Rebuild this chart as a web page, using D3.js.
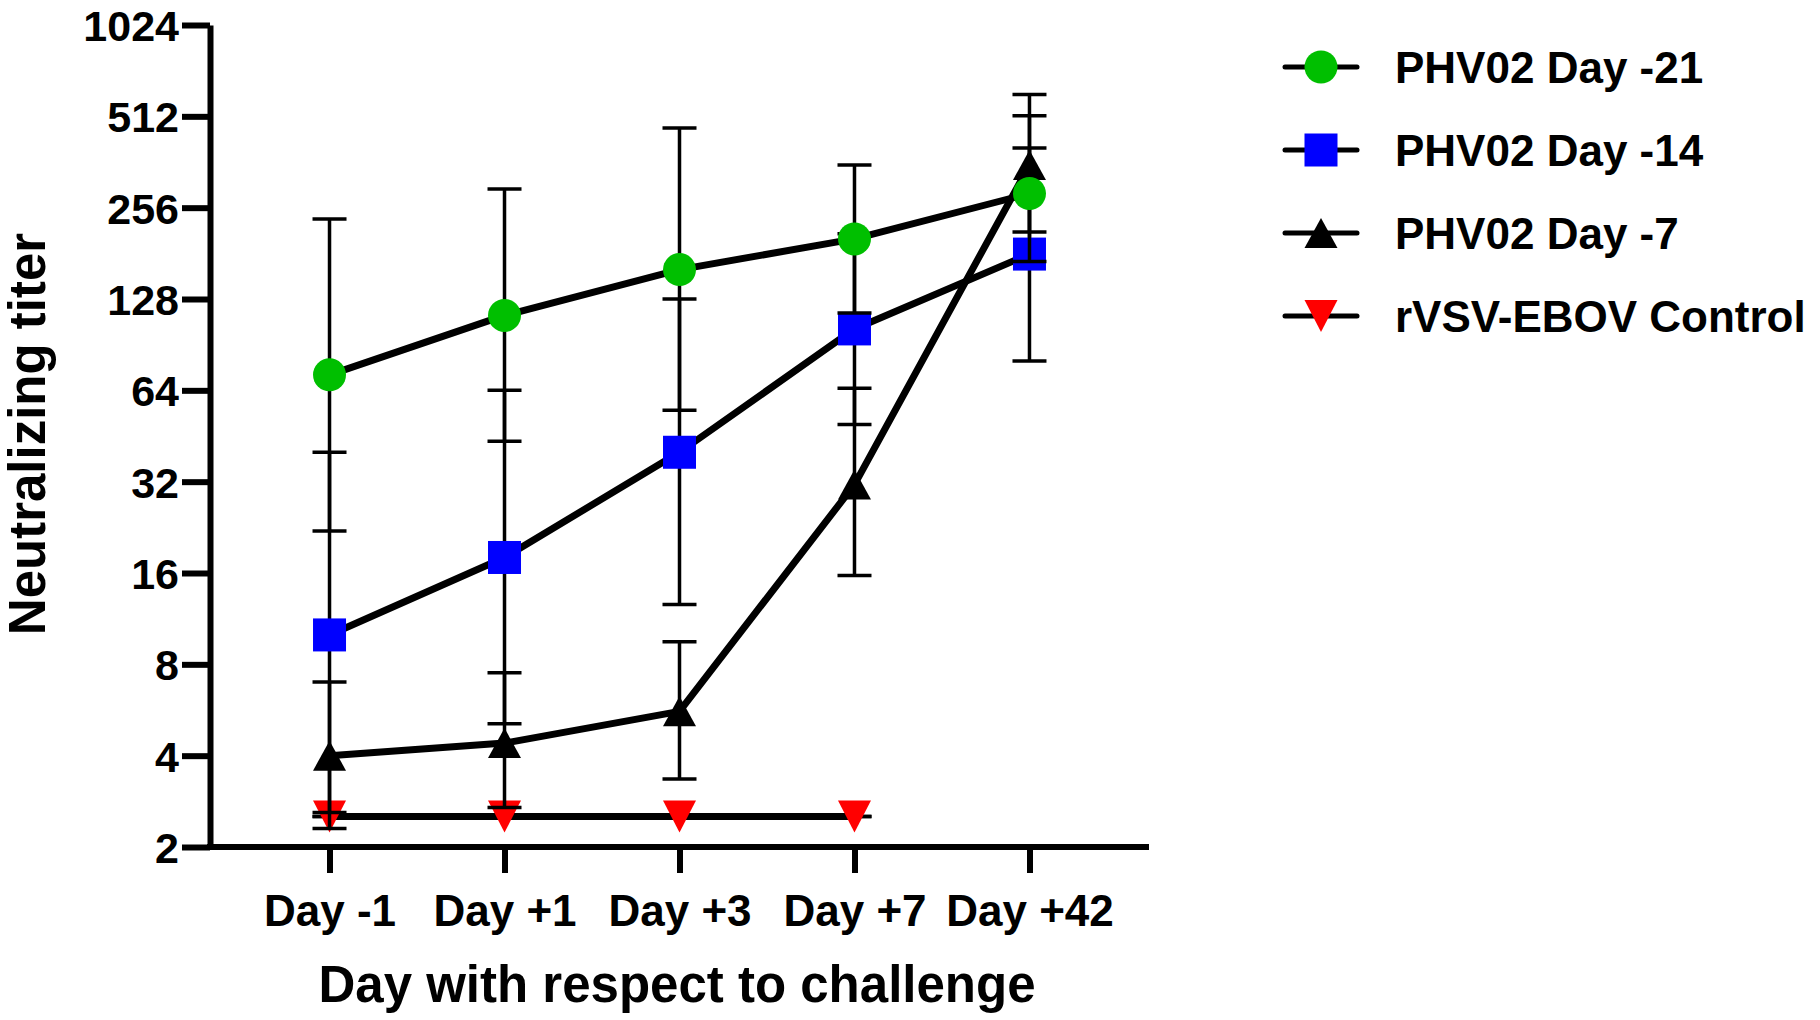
<!DOCTYPE html>
<html>
<head>
<meta charset="utf-8">
<script src="https://cdn.jsdelivr.net/npm/d3@7"></script>
<style>
  html, body { margin: 0; padding: 0; background: #fff; }
  svg { display: block; font-family: 'Liberation Sans', Arial, sans-serif; font-weight: bold; }
</style>
</head>
<body>
<div id="chart"></div>
<script>
// categories and tick labels
const days = ['Day -1', 'Day +1', 'Day +3', 'Day +7', 'Day +42'];
const yTicks = [2, 4, 8, 16, 32, 64, 128, 256, 512, 1024];

// series values (mean, lower and upper error limits)
const d21 = [72, 113, 160, 202, 285];
const d21Lo = [22, 43.5, 55, 115, 170];
const d21Hi = [235, 295, 469, 354, 514];

const d14 = [10, 18, 40, 102, 180];
const d14Lo = [2.6, 5.1, 12.6, 49.4, 80];
const d14Hi = [40, 64, 128, 210, 403];

const d7 = [4, 4.4, 5.6, 31.3, 354];
const d7Lo = [2.3, 2.7, 3.35, 15.7, 213];
const d7Hi = [7, 7.5, 9.5, 65, 604];

const ctrl = [2.52, 2.52, 2.52, 2.52, null];

const series = [
  { name: 'rVSV-EBOV Control', vals: ctrl, lo: ctrl, hi: ctrl, color: '#ff0000', shape: 'down' },
  { name: 'PHV02 Day -7', vals: d7, lo: d7Lo, hi: d7Hi, color: '#000000', shape: 'up' },
  { name: 'PHV02 Day -14', vals: d14, lo: d14Lo, hi: d14Hi, color: '#0000ff', shape: 'square' },
  { name: 'PHV02 Day -21', vals: d21, lo: d21Lo, hi: d21Hi, color: '#00bf00', shape: 'circle' },
];
const legendOrder = ['PHV02 Day -21', 'PHV02 Day -14', 'PHV02 Day -7', 'rVSV-EBOV Control'];

const width = 1820;
const height = 1020;

const svg = d3.select('#chart').append('svg')
  .attr('width', width)
  .attr('height', height);

const x = d3.scalePoint().domain(days).range([210, 1149]).padding(0.683);
const y = d3.scaleLog().base(2).domain([2, 1024]).range([847, 25]);

// axes
const yAxis = svg.append('g')
  .attr('transform', 'translate(210,0)')
  .call(d3.axisLeft(y).tickValues(yTicks).tickFormat(d3.format('d'))
    .tickSize(28).tickSizeOuter(0).tickPadding(3));
yAxis.selectAll('path, line').attr('stroke', '#000').attr('stroke-width', 6);
yAxis.selectAll('text').attr('font-size', 43).attr('fill', '#000').attr('dy', '0.36em')
  .attr('font-family', "'Liberation Sans', Arial, sans-serif").attr('font-weight', 'bold');

const xAxis = svg.append('g')
  .attr('transform', 'translate(0,847)')
  .call(d3.axisBottom(x).tickSize(26).tickSizeOuter(0).tickPadding(22));
xAxis.select('.domain').attr('d', 'M207,0H1149');
xAxis.selectAll('path, line').attr('stroke', '#000').attr('stroke-width', 6);
xAxis.selectAll('text').attr('font-size', 44).attr('fill', '#000')
  .attr('font-family', "'Liberation Sans', Arial, sans-serif").attr('font-weight', 'bold');

// axis titles
svg.append('text')
  .attr('x', 677).attr('y', 1002)
  .attr('text-anchor', 'middle')
  .attr('font-size', 51)
  .text('Day with respect to challenge');

svg.append('text')
  .attr('transform', 'translate(45,434) rotate(-90)')
  .attr('text-anchor', 'middle')
  .attr('font-size', 51)
  .text('Neutralizing titer');

// marker drawing
function marker(g, shape, color, cx, cy) {
  const s = 33;
  if (shape === 'circle') {
    g.append('circle').attr('cx', cx).attr('cy', cy).attr('r', s / 2).attr('fill', color);
  } else if (shape === 'square') {
    g.append('rect').attr('x', cx - s / 2).attr('y', cy - s / 2)
      .attr('width', s).attr('height', s).attr('fill', color);
  } else if (shape === 'up') {
    const h = 30;
    g.append('path').attr('fill', color)
      .attr('d', `M${cx},${cy - h / 2}L${cx + s / 2},${cy + h / 2}L${cx - s / 2},${cy + h / 2}Z`);
  } else {
    const h = 32;
    g.append('path').attr('fill', color)
      .attr('d', `M${cx - s / 2},${cy - h / 2}L${cx + s / 2},${cy - h / 2}L${cx},${cy + h / 2}Z`);
  }
}

const line = d3.line()
  .defined(d => d.v != null)
  .x(d => x(d.day))
  .y(d => y(d.v));

series.forEach(s => {
  const pts = days.map((day, i) => ({ day, v: s.vals[i], lo: s.lo[i], hi: s.hi[i] }))
    .filter(d => d.v != null);
  const g = svg.append('g').attr('class', 'series');

  g.append('path')
    .datum(pts)
    .attr('fill', 'none')
    .attr('stroke', '#000')
    .attr('stroke-width', 7)
    .attr('stroke-linejoin', 'round')
    .attr('d', line);

  // error bars
  const eb = g.append('g').attr('stroke', '#000').attr('stroke-width', 3.5);
  pts.forEach(d => {
    const cx = x(d.day);
    eb.append('line').attr('x1', cx).attr('x2', cx).attr('y1', y(d.lo)).attr('y2', y(d.hi));
    [d.lo, d.hi].forEach(v => {
      eb.append('line').attr('x1', cx - 17).attr('x2', cx + 17).attr('y1', y(v)).attr('y2', y(v));
    });
  });

  pts.forEach(d => marker(g, s.shape, s.color, x(d.day), y(d.v)));
});

// legend
const legend = svg.append('g');
legendOrder.forEach((name, i) => {
  const s = series.find(d => d.name === name);
  const cy = 67 + i * 83;
  legend.append('line')
    .attr('x1', 1285).attr('x2', 1357).attr('y1', cy).attr('y2', cy)
    .attr('stroke', '#000').attr('stroke-width', 5).attr('stroke-linecap', 'round');
  marker(legend, s.shape, s.color, 1321, cy);
  legend.append('text')
    .attr('x', 1395).attr('y', cy)
    .attr('dy', '0.36em')
    .attr('font-size', 44)
    .text(name);
});
</script>
</body>
</html>
